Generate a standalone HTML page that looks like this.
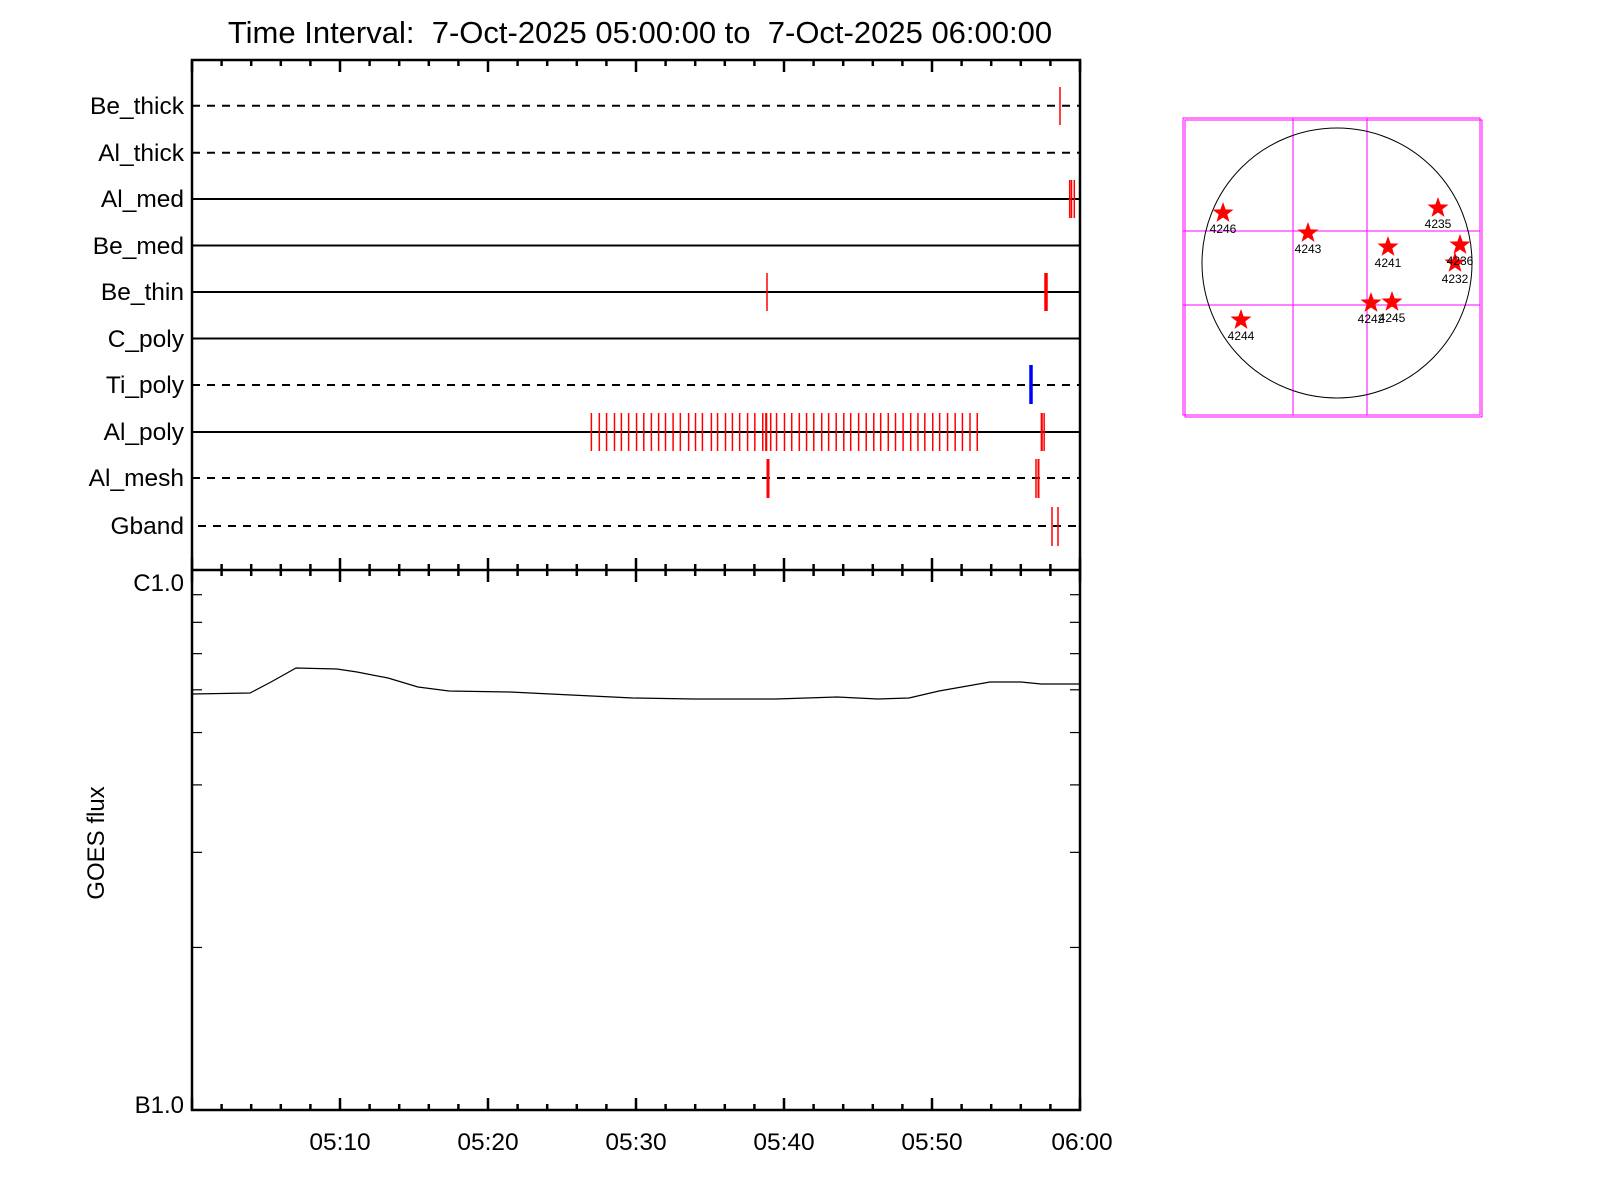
<!DOCTYPE html>
<html><head><meta charset="utf-8"><style>
html,body{margin:0;padding:0;background:#fff;}
svg{display:block;font-family:"Liberation Sans",sans-serif;}
</style></head><body>
<svg width="1600" height="1200" viewBox="0 0 1600 1200" xmlns="http://www.w3.org/2000/svg">
<rect width="1600" height="1200" fill="#fff"/>
<text x="640" y="43" font-size="31" text-anchor="middle" xml:space="preserve" style="white-space:pre">Time Interval:  7-Oct-2025 05:00:00 to  7-Oct-2025 06:00:00</text>
<g id="rows" stroke="#000" stroke-width="2">
<line x1="192" y1="105.7" x2="1080" y2="105.7" stroke-dasharray="8,7"/>
<line x1="192" y1="152.7" x2="1080" y2="152.7" stroke-dasharray="8,7"/>
<line x1="192" y1="199" x2="1080" y2="199"/>
<line x1="192" y1="245.5" x2="1080" y2="245.5"/>
<line x1="192" y1="292" x2="1080" y2="292"/>
<line x1="192" y1="338.5" x2="1080" y2="338.5"/>
<line x1="192" y1="385" x2="1080" y2="385" stroke-dasharray="8,7"/>
<line x1="192" y1="432" x2="1080" y2="432"/>
<line x1="192" y1="478" x2="1080" y2="478" stroke-dasharray="8,7"/>
<line x1="198" y1="526" x2="1076" y2="526" stroke-dasharray="8,7"/>
</g>
<g font-size="24.5" text-anchor="end">
<text x="184" y="114">Be_thick</text>
<text x="184" y="161">Al_thick</text>
<text x="184" y="207">Al_med</text>
<text x="184" y="254">Be_med</text>
<text x="184" y="300">Be_thin</text>
<text x="184" y="347">C_poly</text>
<text x="184" y="393">Ti_poly</text>
<text x="184" y="440">Al_poly</text>
<text x="184" y="486">Al_mesh</text>
<text x="184" y="534">Gband</text>
</g>
<g stroke="#f00" stroke-width="1.5">
<line x1="1060" y1="87" x2="1060" y2="125"/>
<line x1="1069.7" y1="180" x2="1069.7" y2="218"/>
<line x1="1071.5" y1="180" x2="1071.5" y2="218"/>
<line x1="1074.3" y1="180" x2="1074.3" y2="218"/>
<line x1="767" y1="273" x2="767" y2="311"/>
<line x1="1046" y1="273" x2="1046" y2="311" stroke-width="3.5"/>
</g>
<line x1="1031" y1="365" x2="1031" y2="404" stroke="#00f" stroke-width="3.5"/>
<g stroke="#f00" stroke-width="1.5" id="alpoly"></g>
<g stroke="#f00" stroke-width="1.5">
<line x1="768" y1="459" x2="768" y2="498" stroke-width="3"/>
<line x1="1036" y1="459" x2="1036" y2="498"/>
<line x1="1038.5" y1="459" x2="1038.5" y2="498" stroke-width="2"/>
<line x1="1052" y1="507" x2="1052" y2="546"/>
<line x1="1058" y1="507" x2="1058" y2="546"/>
</g>
<g fill="none" stroke="#000" stroke-width="2.5">
<rect x="192" y="60" width="888" height="1050"/>
<line x1="192" y1="570" x2="1080" y2="570"/>
</g>
<g id="ticks" stroke="#000" stroke-width="2.5"></g>
<g stroke="#000" stroke-width="1.2" id="yticks"></g>
<polyline fill="none" stroke="#000" stroke-width="1.2" points="192,694 250,693 271,682 296,668 337,669 357,672 388,678 418,687 449,691 510,692 571,695 633,698 694,699 776,699 837,697 878,699 909,698 939,691 990,682 1021,682 1041,684 1080,684"/>
<g font-size="24">
<text x="184" y="591" text-anchor="end">C1.0</text>
<text x="184" y="1113" text-anchor="end">B1.0</text>
<text transform="translate(104,843) rotate(-90)" text-anchor="middle">GOES flux</text>
<g text-anchor="middle" font-size="24.5">
<text x="340" y="1150">05:10</text>
<text x="488" y="1150">05:20</text>
<text x="636" y="1150">05:30</text>
<text x="784" y="1150">05:40</text>
<text x="932" y="1150">05:50</text>
<text x="1082" y="1150">06:00</text>
</g>
</g>
<!-- sun -->
<g fill="none" stroke="#f0f" stroke-width="1">
<rect x="1183" y="118" width="297" height="297"/>
<rect x="1185" y="120" width="297" height="297"/>
<line x1="1183" y1="231" x2="1480" y2="231"/>
<line x1="1183" y1="305" x2="1480" y2="305"/>
<line x1="1293" y1="118" x2="1293" y2="415"/>
<line x1="1367" y1="118" x2="1367" y2="415"/>
</g>
<circle cx="1337" cy="263" r="135" fill="none" stroke="#000" stroke-width="1"/>
<g id="stars" fill="#f00"></g>
<g font-size="12" text-anchor="middle" id="slabels"></g>
<script>
(function(){
var ns="http://www.w3.org/2000/svg";
function el(p,t,a,txt){var e=document.createElementNS(ns,t);for(var k in a)e.setAttribute(k,a[k]);if(txt)e.textContent=txt;p.appendChild(e);return e;}
var ap=document.getElementById("alpoly");
var zs=[91,114,135,158,178,199,222,243,265,286,306,328,349,373,393,413,439,457,480,500,521,544,565,588,597,599,611,628,651,672,694,715,736,759,779,801,823,843,866,888,910,930,952,973,995,1017,1038,1058,1081,1101,1124,1146,1167,1189,1210,1396,1398,1404];
zs.forEach(function(z){var x=560+z/2.9;el(ap,"line",{x1:x,y1:413,x2:x,y2:451});});
var t=document.getElementById("ticks");
for(var m=0;m<=60;m+=2){var x=192+m*14.8,maj=m%10==0;var L=maj?12:6;
el(t,"line",{x1:x,y1:60,x2:x,y2:60+L});
el(t,"line",{x1:x,y1:570-L,x2:x,y2:570+L});
el(t,"line",{x1:x,y1:1110,x2:x,y2:1110-L});}
var yt=document.getElementById("yticks");
for(var k=2;k<=9;k++){var y=1110-540*Math.log10(k);
el(yt,"line",{x1:192,y1:y,x2:202,y2:y});el(yt,"line",{x1:1070,y1:y,x2:1080,y2:y});}
var st=document.getElementById("stars"),sl=document.getElementById("slabels");
var S=[["4246",1223,213],["4243",1308,233],["4241",1388,247],["4235",1438,208],["4236",1460,245],["4232",1455,263],["4242",1371,303],["4245",1392,302],["4244",1241,320]];
S.forEach(function(s){var pts=[];for(var i=0;i<10;i++){var r=i%2?4.5:11,a=-Math.PI/2+i*Math.PI/5;pts.push((s[1]+r*Math.cos(a)).toFixed(1)+","+(s[2]+r*Math.sin(a)).toFixed(1));}
el(st,"polygon",{points:pts.join(" ")});
el(sl,"text",{x:s[1],y:s[2]+20},s[0]);});
})();
</script>
</svg>
</body></html>
